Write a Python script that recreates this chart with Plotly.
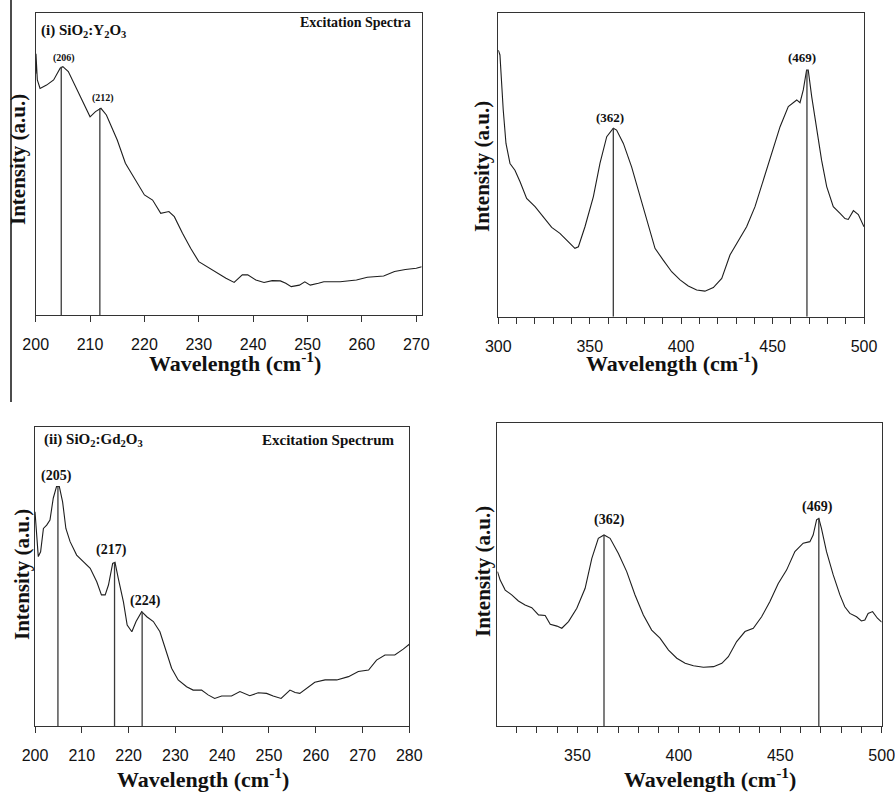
import plotly.graph_objects as go

# ---------------- Data ----------------
# Panel (i) SiO2:Y2O3 excitation spectrum (200-271)
y_wl = [200.0, 200.05, 200.3, 200.8, 202.0, 203.3, 204.5, 205.0, 206.0, 207.0, 208.5, 210.0, 211.0,
        212.0, 213.0, 215.0, 216.5, 218.0, 220.0, 221.5, 223.0, 224.5, 225.5, 227.0, 228.5, 230.0,
        231.5, 233.0, 235.0, 236.5, 238.0, 239.0, 240.5, 242.0, 243.5, 245.0, 246.0, 247.0, 248.5,
        249.5, 250.5, 252.0, 253.0, 256.0, 259.0, 261.0, 264.0, 266.0, 268.0, 270.0, 271.0]
y_int = [80.0, 86.6, 77.9, 75.1, 76.2, 77.9, 81.8, 82.3, 80.7, 76.8, 71.3, 65.7, 67.4,
         68.5, 66.3, 58.0, 50.3, 45.9, 39.8, 38.1, 33.7, 34.3, 32.6, 27.1, 22.1, 17.7,
         16.0, 14.4, 12.2, 10.8, 13.3, 13.3, 11.6, 10.8, 11.4, 11.3, 10.5, 9.4, 9.9,
         11.0, 9.9, 10.5, 11.0, 11.0, 11.6, 12.5, 12.9, 14.4, 15.1, 15.5, 16.0]
y_peak_wl = [204.7, 211.8]
y_peak_int = [82.3, 68.5]
y_peak_lbl = ["(206)", "(212)"]

# Panel (i) right: 300-500
y2_wl = [300.0, 300.9, 302.7, 304.2, 306.4, 309.1, 311.9, 315.5, 320.1, 324.6, 329.2, 333.7, 337.4,
         341.9, 343.8, 347.4, 352.0, 355.6, 359.3, 362.9, 364.7, 368.4, 372.9, 377.5, 382.0, 385.7,
         390.2, 394.8, 399.4, 403.9, 408.5, 413.0, 417.6, 422.2, 426.7, 431.3, 435.8, 440.4, 444.9,
         449.5, 454.1, 458.6, 463.2, 465.0, 466.8, 468.6, 469.5, 471.4, 474.1, 476.8, 479.6, 483.2,
         486.9, 489.6, 491.4, 494.2, 496.9, 500.0]
y2_int = [87.7, 86.1, 68.0, 57.0, 50.4, 48.2, 44.4, 38.9, 36.2, 32.9, 29.4, 27.4, 25.2,
          22.5, 23.0, 29.6, 39.5, 50.4, 59.2, 62.0, 61.4, 57.0, 49.3, 39.5, 29.6, 22.5,
          18.6, 14.8, 12.1, 10.1, 8.8, 8.4, 9.6, 12.6, 20.3, 25.2, 29.6, 36.2, 45.0,
          53.7, 62.5, 69.1, 71.3, 70.4, 74.6, 81.1, 81.1, 72.4, 61.4, 51.5, 42.8, 36.2,
          34.0, 32.3, 32.0, 34.9, 33.6, 29.6]
y2_peak_wl = [362.9, 468.8]
y2_peak_int = [62.0, 81.1]
y2_peak_lbl = ["(362)", "(469)"]

# Panel (ii) SiO2:Gd2O3 excitation spectrum (200-280)
g_wl = [200.0, 200.4, 200.7, 201.2, 201.8, 202.5, 203.2, 203.9, 204.6, 205.2, 205.9, 206.6, 207.5,
        208.9, 210.3, 211.8, 213.2, 214.2, 215.0, 215.7, 216.6, 217.1, 217.8, 218.9, 219.7, 220.7,
        221.6, 222.8, 223.9, 225.3, 226.7, 228.1, 229.2, 230.6, 232.4, 233.8, 235.6, 237.0, 238.4,
        239.9, 242.0, 243.8, 245.9, 247.7, 249.5, 250.9, 252.6, 254.5, 255.6, 256.6, 258.1, 259.8,
        262.0, 264.5, 267.0, 269.1, 271.3, 273.0, 274.8, 276.9, 278.7, 280.0]
g_int = [71.6, 62.7, 56.6, 58.2, 66.0, 67.1, 68.8, 76.1, 80.0, 80.0, 74.9, 66.0, 61.6,
         57.1, 54.9, 52.7, 48.2, 43.8, 43.8, 47.1, 54.3, 54.7, 49.3, 41.5, 33.7, 31.5,
         34.9, 38.2, 36.5, 34.9, 31.5, 24.8, 19.3, 15.4, 13.1, 12.0, 12.0, 10.4, 9.2,
         10.0, 10.0, 11.5, 10.1, 11.1, 10.9, 10.0, 9.2, 12.0, 11.2, 10.9, 12.6, 14.6,
         15.4, 15.4, 16.5, 18.2, 18.7, 22.0, 23.7, 23.7, 25.7, 27.3]
g_peak_wl = [204.9, 217.0, 222.9]
g_peak_int = [80.0, 54.7, 38.2]
g_peak_lbl = ["(205)", "(217)", "(224)"]

# Panel (ii) right: 310-500
g2_wl = [310.6, 311.9, 314.4, 317.6, 320.9, 324.2, 327.5, 330.8, 334.1, 336.6, 339.9, 342.3, 345.6,
         349.7, 353.8, 357.1, 360.3, 363.1, 366.1, 370.2, 374.3, 378.4, 382.5, 386.6, 390.7, 394.9,
         399.0, 403.1, 407.2, 412.1, 417.1, 421.2, 424.4, 428.5, 432.6, 436.7, 440.8, 444.9, 449.0,
         453.1, 457.2, 461.3, 464.6, 466.2, 467.9, 469.0, 470.3, 472.8, 476.1, 479.4, 481.8, 484.3,
         487.6, 490.0, 491.7, 493.3, 495.5, 497.9, 500.0]
g2_int = [51.0, 48.2, 44.9, 43.3, 41.3, 40.0, 39.1, 36.7, 36.5, 33.6, 33.0, 32.3, 34.5,
          38.9, 45.5, 55.4, 62.0, 63.1, 62.0, 57.0, 51.0, 43.3, 36.7, 31.7, 29.0, 25.1,
          22.4, 20.7, 19.9, 19.4, 19.6, 20.7, 22.9, 27.9, 31.2, 32.3, 36.1, 41.1, 47.1,
          51.5, 57.6, 60.4, 60.9, 63.1, 68.1, 68.6, 65.3, 57.6, 49.9, 43.3, 39.4, 37.2,
          36.1, 34.7, 35.0, 37.2, 37.8, 35.6, 34.3]
g2_peak_wl = [363.1, 469.0]
g2_peak_int = [63.1, 68.6]
g2_peak_lbl = ["(362)", "(469)"]

# ---------------- Styles ----------------
W, H = 895, 793
SERIF = "Liberation Serif, Times New Roman, serif"
SANS = "Liberation Sans, Arial, sans-serif"
CURVE = "#1e1e1e"
PEAKLINE = "#3a3a3a"


def px(x):
    return x / W


def py(y):
    return 1 - y / H


panels = [
    dict(xd=(35.7, 421.7), yd=(13.3, 315.0), rng=[200, 271], dtick=10, minor=False,
         wl=y_wl, it=y_int, pwl=y_peak_wl, pit=y_peak_int, plb=y_peak_lbl, lsize=10,
         loff=[(3, 9), (3, 10)]),
    dict(xd=(498.3, 864.0), yd=(12.7, 316.7), rng=[300, 500], dtick=50, minor=True,
         wl=y2_wl, it=y2_int, pwl=y2_peak_wl, pit=y2_peak_int, plb=y2_peak_lbl, lsize=13,
         loff=[(-3, 11), (-5, 13)]),
    dict(xd=(35.0, 409.3), yd=(426.7, 726.0), rng=[200, 280], dtick=10, minor=False,
         wl=g_wl, it=g_int, pwl=g_peak_wl, pit=g_peak_int, plb=g_peak_lbl, lsize=14,
         loff=[(-1, 11), (-3, 12), (3, 11)]),
    dict(xd=(497.3, 881.7), yd=(423.3, 726.0), rng=[310.5, 500], dtick=50, minor=True,
         wl=g2_wl, it=g2_int, pwl=g2_peak_wl, pit=g2_peak_int, plb=g2_peak_lbl, lsize=14,
         loff=[(5, 15), (-1, 11)]),
]

fig = go.Figure()
annotations = []
layout = dict(
    template="none",
    width=W, height=H, margin=dict(l=0, r=0, t=0, b=0, autoexpand=False),
    paper_bgcolor="white", plot_bgcolor="white", showlegend=False,
)

for i, p in enumerate(panels, start=1):
    xa = "x" if i == 1 else f"x{i}"
    ya = "y" if i == 1 else f"y{i}"
    xkey = "xaxis" if i == 1 else f"xaxis{i}"
    ykey = "yaxis" if i == 1 else f"yaxis{i}"

    fig.add_trace(go.Scatter(x=p["wl"], y=p["it"], mode="lines", xaxis=xa, yaxis=ya,
                             line=dict(color=CURVE, width=1.1), hoverinfo="skip"))
    for wl, it in zip(p["pwl"], p["pit"]):
        fig.add_trace(go.Scatter(x=[wl, wl], y=[0, it], mode="lines", xaxis=xa, yaxis=ya,
                                 line=dict(color=PEAKLINE, width=1.3), hoverinfo="skip"))
    for (wl, it, lb), (dx, dy) in zip(zip(p["pwl"], p["pit"], p["plb"]), p["loff"]):
        annotations.append(dict(x=wl, y=it, xref=xa, yref=ya, text=f"<b>{lb}</b>",
                                showarrow=False, xanchor="center", yanchor="middle",
                                xshift=dx, yshift=dy,
                                font=dict(family=SERIF, size=p["lsize"], color="#111")))

    xaxis = dict(domain=[px(p["xd"][0]), px(p["xd"][1])], range=p["rng"], anchor=ya,
                 automargin=False, ticklabeloverflow="allow",
                 showline=True, mirror=True, linecolor="#333", linewidth=1,
                 ticks="outside", ticklen=6, tickwidth=1, tickcolor="#333",
                 tick0=0, dtick=p["dtick"], showgrid=False, zeroline=False,
                 ticklabelstandoff=9,
                 tickfont=dict(family=SANS, size=16, color="#111"))
    if p["minor"]:
        xaxis["minor"] = dict(dtick=10, tick0=0, ticks="outside", ticklen=6,
                              tickcolor="#333", tickwidth=1, showgrid=False)
    layout[xkey] = xaxis
    layout[ykey] = dict(domain=[py(p["yd"][1]), py(p["yd"][0])], range=[0, 100], anchor=xa,
                        automargin=False,
                        showline=True, mirror=True, linecolor="#333", linewidth=1,
                        ticks="", showticklabels=False, showgrid=False, zeroline=False)

# Axis titles (centres in pixels)
xtitles = [(235, 362), (672, 362), (203, 778), (710, 778)]
ytitles = [(18, 160), (482, 167), (22, 575), (483, 572)]
for (cx, cy) in xtitles:
    annotations.append(dict(x=px(cx), y=py(cy), xref="paper", yref="paper",
                            text="<b>Wavelength (cm<sup>-1</sup>)</b>", showarrow=False,
                            xanchor="center", yanchor="middle",
                            font=dict(family=SERIF, size=22, color="#111")))
for (cx, cy) in ytitles:
    annotations.append(dict(x=px(cx), y=py(cy), xref="paper", yref="paper",
                            text="<b>Intensity (a.u.)</b>", showarrow=False, textangle=-90,
                            xanchor="center", yanchor="middle",
                            font=dict(family=SERIF, size=21, color="#111")))

# Panel labels
annotations += [
    dict(x=0.008, y=0.941, xref="x domain", yref="y domain",
         text="<b>(i) SiO<sub>2</sub>:Y<sub>2</sub>O<sub>3</sub></b>", showarrow=False,
         xanchor="left", yanchor="middle", font=dict(family=SERIF, size=15, color="#111")),
    dict(x=0.977, y=0.968, xref="x domain", yref="y domain",
         text="<b>Excitation Spectra</b>", showarrow=False,
         xanchor="right", yanchor="middle", font=dict(family=SERIF, size=14, color="#111")),
    dict(x=0.019, y=0.956, xref="x3 domain", yref="y3 domain",
         text="<b>(ii) SiO<sub>2</sub>:Gd<sub>2</sub>O<sub>3</sub></b>", showarrow=False,
         xanchor="left", yanchor="middle", font=dict(family=SERIF, size=15, color="#111")),
    dict(x=0.967, y=0.956, xref="x3 domain", yref="y3 domain",
         text="<b>Excitation Spectrum</b>", showarrow=False,
         xanchor="right", yanchor="middle", font=dict(family=SERIF, size=15, color="#111")),
]

layout["annotations"] = annotations
layout["shapes"] = [dict(type="line", xref="paper", yref="paper",
                         x0=px(11), x1=px(11), y0=1, y1=py(402),
                         line=dict(color="#111", width=1.5))]
fig.update_layout(**layout)
fig.write_html("out.html", config={"displayModeBar": False},
               post_script="document.body.style.margin='0px';document.body.style.overflow='hidden';")
